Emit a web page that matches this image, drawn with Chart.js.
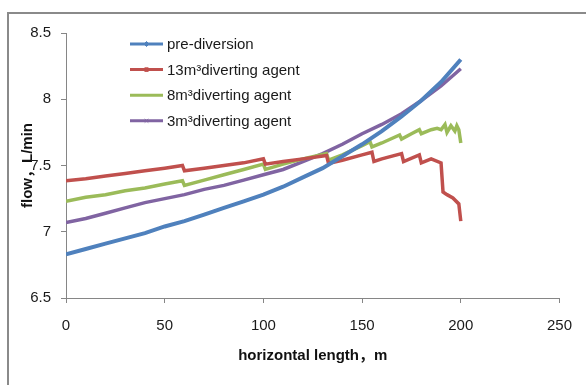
<!DOCTYPE html>
<html>
<head>
<meta charset="utf-8">
<script src="https://cdn.jsdelivr.net/npm/chart.js@4.4.0/dist/chart.umd.min.js"></script>
<style>
  html, body { margin: 0; padding: 0; background: #fff; }
</style>
</head>
<body>
<canvas id="chart" width="586" height="385"></canvas>
<script>
// Series names (legend order)
const seriesNames = ["pre-diversion", "13m³diverting agent", "8m³diverting agent", "3m³diverting agent"];

// pre-diversion: horizontal length (m) and flow (L/min)
const preX = [0, 10, 20, 30, 40, 50, 60, 70, 80, 90, 100, 110, 120, 130, 140, 150, 160, 170, 180, 190, 200];
const preFlow = [6.83, 6.87, 6.91, 6.95, 6.99, 7.04, 7.08, 7.13, 7.18, 7.23, 7.28, 7.34, 7.41, 7.48, 7.57, 7.66, 7.76, 7.87, 7.99, 8.13, 8.30];

// 13m3 diverting agent
const agent13X = [0, 10, 20, 30, 40, 50, 59, 60, 70, 80, 90, 100, 101, 110, 120, 132, 133, 140, 150, 155, 156, 160, 170, 171, 179, 180, 185, 190, 191, 193, 196, 199, 200];
const agent13Flow = [7.385, 7.40, 7.42, 7.44, 7.46, 7.48, 7.50, 7.46, 7.48, 7.50, 7.52, 7.55, 7.51, 7.53, 7.55, 7.575, 7.515, 7.54, 7.58, 7.60, 7.53, 7.55, 7.59, 7.53, 7.58, 7.52, 7.55, 7.52, 7.30, 7.28, 7.255, 7.21, 7.08];

// 8m3 diverting agent
const agent8X = [0, 10, 20, 30, 40, 50, 59, 60, 70, 80, 90, 100, 101, 110, 120, 132, 133, 140, 150, 154, 155, 160, 169, 170, 175, 179, 180, 185, 188, 190, 192, 193, 195, 197, 198, 199, 200];
const agent8Flow = [7.23, 7.26, 7.28, 7.31, 7.33, 7.36, 7.385, 7.35, 7.39, 7.43, 7.47, 7.51, 7.47, 7.51, 7.55, 7.59, 7.54, 7.58, 7.65, 7.68, 7.64, 7.67, 7.73, 7.70, 7.74, 7.77, 7.74, 7.77, 7.78, 7.77, 7.81, 7.75, 7.80, 7.76, 7.80, 7.77, 7.67];

// 3m3 diverting agent
const agent3X = [0, 10, 20, 30, 40, 50, 60, 70, 80, 90, 100, 110, 120, 130, 140, 150, 160, 170, 180, 190, 200];
const agent3Flow = [7.07, 7.10, 7.14, 7.18, 7.22, 7.25, 7.28, 7.32, 7.35, 7.39, 7.43, 7.47, 7.53, 7.59, 7.66, 7.74, 7.81, 7.89, 7.99, 8.10, 8.23];

// Axis ticks
const xTicks = [0, 50, 100, 150, 200, 250];
const yTicks = [6.5, 7, 7.5, 8, 8.5];

const colors = ["#4F81BD", "#C0504D", "#9BBB59", "#8064A2"];
const markers = ["rectRot", "rect", "line", "crossRot"];

function toPoints(xs, ys) {
  return xs.map((x, i) => ({ x: x, y: ys[i] }));
}

const seriesData = [
  toPoints(preX, preFlow),
  toPoints(agent13X, agent13Flow),
  toPoints(agent8X, agent8Flow),
  toPoints(agent3X, agent3Flow),
];

const tickFont = { family: "'Liberation Sans', Arial, sans-serif", size: 15 };
const titleFont = { family: "'Liberation Sans', 'Noto Sans CJK SC', sans-serif", size: 15, weight: "bold" };

// White background and the frame lines at top and left
const framePlugin = {
  id: "framePlugin",
  beforeDraw(chart) {
    const ctx = chart.ctx;
    ctx.save();
    ctx.fillStyle = "#fff";
    ctx.fillRect(0, 0, chart.width, chart.height);
    ctx.strokeStyle = "#8a8a8a";
    ctx.lineWidth = 2;
    ctx.beginPath();
    ctx.moveTo(8, chart.height);
    ctx.lineTo(8, 13);
    ctx.lineTo(chart.width, 13);
    ctx.stroke();
    ctx.restore();
  },
};

// Legend drawn inside the plot area, like the original
const legendPlugin = {
  id: "legendPlugin",
  afterDraw(chart) {
    const ctx = chart.ctx;
    ctx.save();
    chart.data.datasets.forEach((ds, i) => {
      const y = 44 + i * 25.6;
      ctx.strokeStyle = ds.borderColor;
      ctx.lineWidth = 3;
      ctx.beginPath();
      ctx.moveTo(130, y);
      ctx.lineTo(163, y);
      ctx.stroke();
      ctx.fillStyle = ds.borderColor;
      ctx.lineWidth = 1;
      Chart.helpers.drawPoint(ctx, { pointStyle: markers[i], radius: 2.5, rotation: 0, borderWidth: 1 }, 146.5, y);
      ctx.fillStyle = "#1a1a1a";
      ctx.font = "15px 'Liberation Sans', Arial, sans-serif";
      ctx.textBaseline = "middle";
      ctx.fillText(ds.label, 167, y + 1);
    });
    ctx.restore();
  },
};

const ctx = document.getElementById("chart").getContext("2d");
const myChart = new Chart(ctx, {
  type: "line",
  data: {
    datasets: seriesNames.map((name, i) => ({
      label: name,
      data: seriesData[i],
      borderColor: colors[i],
      backgroundColor: colors[i],
      borderWidth: i === 0 ? 4 : 3.5,
      pointRadius: 0,
      tension: 0,
      fill: false,
    })),
  },
  options: {
    responsive: false,
    animation: false,
    events: [],
    layout: { padding: { left: 0, right: 16, top: 33, bottom: 0 } },
    plugins: {
      legend: { display: false },
      tooltip: { enabled: false },
    },
    scales: {
      x: {
        type: "linear",
        min: xTicks[0],
        max: xTicks[xTicks.length - 1],
        afterFit: (scale) => { scale.height = 87; },
        afterBuildTicks: (scale) => { scale.ticks = xTicks.map((v) => ({ value: v })); },
        ticks: { font: tickFont, color: "#1a1a1a", padding: 14, maxRotation: 0, callback: (v) => String(v) },
        grid: { drawOnChartArea: false, drawTicks: true, tickLength: 5, color: "#868686" },
        border: { color: "#868686", width: 1 },
        title: {
          display: true,
          text: "horizontal length，m",
          font: titleFont,
          color: "#111",
          padding: { top: 0, bottom: 20 },
        },
      },
      y: {
        min: yTicks[0],
        max: yTicks[yTicks.length - 1],
        afterFit: (scale) => { scale.width = 66; },
        afterBuildTicks: (scale) => { scale.ticks = yTicks.map((v) => ({ value: v })); },
        ticks: { font: tickFont, color: "#1a1a1a", padding: 10, callback: (v) => String(v) },
        grid: { drawOnChartArea: false, drawTicks: true, tickLength: 5, color: "#868686" },
        border: { color: "#868686", width: 1 },
        title: {
          display: true,
          text: "flow，L/min",
          font: titleFont,
          color: "#111",
          padding: { top: 19, bottom: 0 },
        },
      },
    },
  },
  plugins: [framePlugin, legendPlugin],
});
</script>
</body>
</html>
